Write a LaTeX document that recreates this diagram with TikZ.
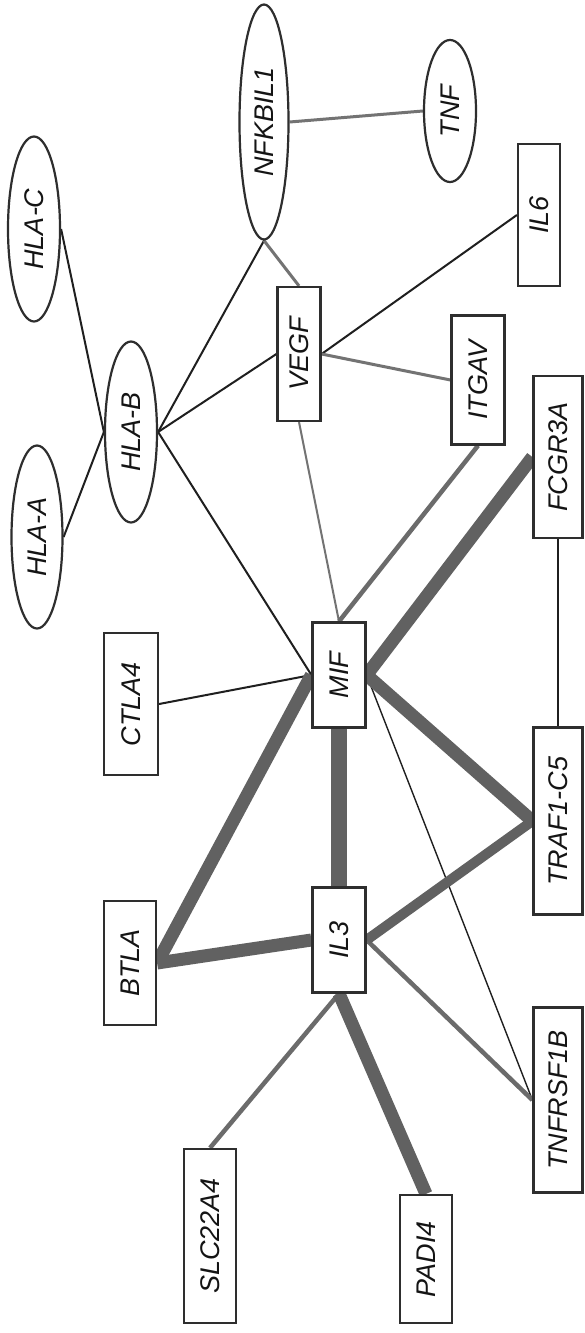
\documentclass[tikz,border=0pt]{standalone}
\usepackage{fontspec}
\setmainfont{Liberation Sans}
\usetikzlibrary{shapes.geometric}
\pgfdeclarelayer{paper}
\pgfdeclarelayer{links}
\pgfsetlayers{paper,links,main}
\begin{document}
\begin{tikzpicture}[x=1pt,y=-1pt,
  gene/.style={draw=black!82, line width=2.2pt, fill=white, inner sep=0pt,
    font=\fontsize{27}{27}\selectfont\itshape, text=black!92},
  box/.style={gene, rectangle},
  oval/.style={gene, ellipse},
  plain/.style={draw=black!88, line width=2pt},
  fine/.style={draw=black!88, line width=1.4pt},
  light/.style={draw=black!55, line width=3pt},
  faint/.style={draw=black!55, line width=2pt},
  medium/.style={draw=black!58, line width=4.5pt},
  heavy/.style={draw=black!62, line width=13pt},
  heavier/.style={draw=black!62, line width=16pt},
  strong/.style={draw=black!62, line width=10pt}]
\useasboundingbox (0,0) rectangle (584,1333);
\begin{pgfonlayer}{paper}
\fill[white] (0,0) rectangle (584,1333);
\end{pgfonlayer}

% genes, labels set sideways
\node[oval, minimum width=52, minimum height=185] (hlac) at (34,229) {\rotatebox{90}{HLA-C}};
\node[oval, minimum width=49, minimum height=235] (nfk) at (264,122) {\rotatebox{90}{NFKBIL1}};
\node[oval, minimum width=52, minimum height=142] (tnf) at (450,111) {\rotatebox{90}{TNF}};
\node[box, minimum width=42, minimum height=142] (il6) at (539,215) {\rotatebox{90}{IL6}};
\node[box, minimum width=43, minimum height=134] (vegf) at (299,354) {\rotatebox{90}{VEGF}};
\node[box, minimum width=53, minimum height=129] (itgav) at (478,380) {\rotatebox{90}{ITGAV}};
\node[oval, minimum width=52, minimum height=181] (hlab) at (131,432) {\rotatebox{90}{HLA-B}};
\node[box, minimum width=49, minimum height=162] (fcgr) at (558,457) {\rotatebox{90}{FCGR3A}};
\node[oval, minimum width=51, minimum height=183] (hlaa) at (37,537) {\rotatebox{90}{HLA-A}};
\node[box, minimum width=54, minimum height=142] (ctla) at (131,704) {\rotatebox{90}{CTLA4}};
\node[box, minimum width=53, minimum height=105] (mif) at (339,675) {\rotatebox{90}{MIF}};
\node[box, minimum width=49, minimum height=187] (traf) at (558,821) {\rotatebox{90}{TRAF1-C5}};
\node[box, minimum width=52, minimum height=124] (btla) at (130,963) {\rotatebox{90}{BTLA}};
\node[box, minimum width=53, minimum height=105] (il3) at (339,940) {\rotatebox{90}{IL3}};
\node[box, minimum width=52, minimum height=174] (slc) at (210,1236) {\rotatebox{90}{SLC22A4}};
\node[box, minimum width=52, minimum height=128] (padi) at (426,1259) {\rotatebox{90}{PADI4}};
\node[box, minimum width=49, minimum height=185] (tnfr) at (558,1100) {\rotatebox{90}{TNFRSF1B}};

\begin{pgfonlayer}{links}
% thin dark links
\draw[plain] (hlac.east) -- (hlab.west);
\draw[plain] (hlaa.east) -- (hlab.west);
\draw[plain] (hlab.east) -- (nfk.south);
\draw[plain] (hlab.east) -- (vegf.west);
\draw[plain] (hlab.east) -- (mif.west);
\draw[plain] (vegf.east) -- (il6.west);
\draw[plain] (ctla.east) -- (mif.west);
\draw[fine] (mif.east) -- (tnfr.west);
\draw[plain] (fcgr.south) -- (traf.north);
% grey links
\draw[light] (nfk.south) -- (vegf.north);
\draw[light] (nfk.east) -- (tnf.west);
\draw[light] (vegf.east) -- (itgav.west);
\draw[faint] (vegf.south) -- (mif.north);
\draw[medium] (itgav.south) -- (mif.north);
\draw[medium] (il3.east) -- (tnfr.west);
\draw[medium] (il3.south) -- (slc.north);
% heavy grey links
\draw[heavy] (mif.east) -- (fcgr.west);
\draw[heavy] (mif.east) -- (traf.west);
\draw[heavier] (mif.south) -- (il3.north);
\draw[heavy] (mif.west) -- (btla.east);
\draw[heavy] (btla.east) -- (il3.west);
\draw[strong] (il3.east) -- (traf.west);
\draw[heavy] (il3.south) -- (padi.north);
\end{pgfonlayer}
\end{tikzpicture}
\end{document}
